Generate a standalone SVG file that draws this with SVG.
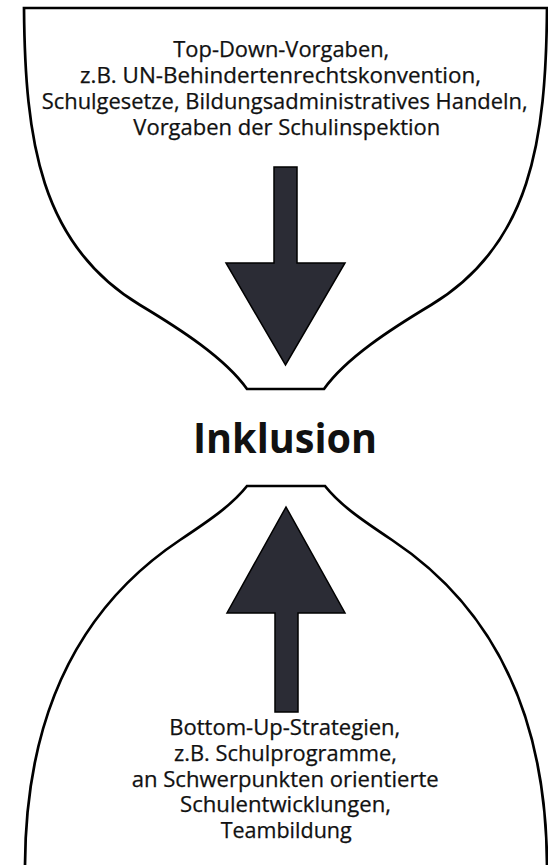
<svg xmlns="http://www.w3.org/2000/svg" width="548" height="865" viewBox="0 0 548 865">
<style>
.shape{fill:#fff;stroke:#000;stroke-width:2.7;stroke-linejoin:miter}
.arrow{fill:#2b2c35;stroke:#000;stroke-width:1.5;stroke-linejoin:miter}
.t{font-family:"Open Sans","Noto Sans",sans-serif;font-size:21px;fill:#111;stroke:#111;stroke-width:0.25}
.big{font-family:"Open Sans","Noto Sans",sans-serif;font-size:42px;font-weight:bold;fill:#111}
</style>
<rect width="548" height="865" fill="#fff"/>
<g id="top-node">
<path class="shape" d="M24,8 H547 C546,140 531,245 431,305 C391,329 346,358 324,389 H247 C225,358 180,329 140,305 C40,245 25,140 24,8 Z"/>
<text class="t" x="173.3" y="57" textLength="216" lengthAdjust="spacingAndGlyphs">Top-Down-Vorgaben,</text>
<text class="t" x="80" y="83" textLength="401" lengthAdjust="spacingAndGlyphs">z.B. UN-Behindertenrechtskonvention,</text>
<text class="t" x="41.7" y="109" textLength="486" lengthAdjust="spacingAndGlyphs">Schulgesetze, Bildungsadministratives Handeln,</text>
<text class="t" x="133.3" y="135" textLength="307" lengthAdjust="spacingAndGlyphs">Vorgaben der Schulinspektion</text>
</g>
<g id="center-node">
<text class="big" x="193" y="452.7" textLength="184" lengthAdjust="spacingAndGlyphs">Inklusion</text>
</g>
<g id="bottom-node">
<path class="shape" d="M25,868 C25,700 90,600 180,540 C210,520 232,505 247,486 H325 C340,505 362,520 392,540 C482,600 547,700 547,868"/>
<text class="t" x="169.3" y="735" textLength="231" lengthAdjust="spacingAndGlyphs">Bottom-Up-Strategien,</text>
<text class="t" x="174" y="760.7" textLength="223" lengthAdjust="spacingAndGlyphs">z.B. Schulprogramme,</text>
<text class="t" x="131.7" y="786.5" textLength="307" lengthAdjust="spacingAndGlyphs">an Schwerpunkten orientierte</text>
<text class="t" x="180" y="812.3" textLength="211" lengthAdjust="spacingAndGlyphs">Schulentwicklungen,</text>
<text class="t" x="220.7" y="838" textLength="131" lengthAdjust="spacingAndGlyphs">Teambildung</text>
</g>
<g id="connectors">
<polygon id="arrow-down" class="arrow" points="274,167 297,167 297,263 345,263 285.5,365 226,263 274,263"/>
<polygon id="arrow-up" class="arrow" points="275,712 298,712 298,613 345,613 286,507 227,613 275,613"/>
</g>
</svg>
